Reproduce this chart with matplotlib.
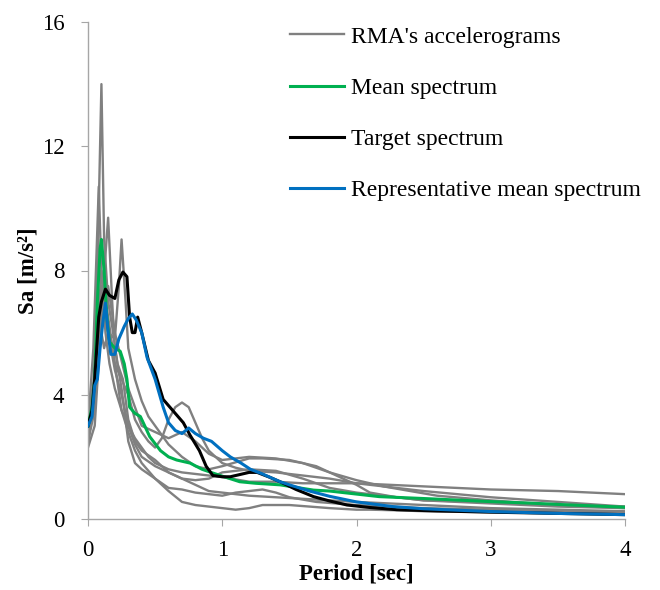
import matplotlib
matplotlib.use("Agg")
import matplotlib.pyplot as plt

# ---- data ----
g1_x = [0, 0.03, 0.06, 0.08, 0.1, 0.12, 0.15, 0.18, 0.22, 0.26, 0.3, 0.35, 0.4, 0.5, 0.6, 0.7, 0.8, 0.9, 1.0, 1.2, 1.4, 1.6, 1.8, 2.0, 2.5, 3.0, 3.5, 4.0]
g1_y = [2.6, 3.5, 6.0, 10.0, 14.0, 9.0, 7.0, 6.2, 5.0, 4.5, 3.2, 2.5, 2.2, 1.9, 1.5, 1.3, 1.1, 0.9, 0.85, 0.75, 0.7, 0.65, 0.6, 0.55, 0.45, 0.35, 0.3, 0.25]

g2_x = [0, 0.04, 0.08, 0.1, 0.13, 0.16, 0.2, 0.25, 0.3, 0.35, 0.4, 0.45, 0.5, 0.6, 0.7, 0.8, 0.9, 1.0, 1.2, 1.4, 1.6, 1.8, 2.0, 2.5, 3.0, 3.5, 4.0]
g2_y = [3.0, 5.5, 10.7, 8.0, 6.0, 5.0, 4.2, 3.5, 3.0, 2.6, 2.3, 2.0, 1.8, 1.6, 1.5, 1.45, 1.4, 1.35, 1.2, 1.2, 1.15, 1.15, 1.15, 1.05, 0.95, 0.9, 0.8]

g3_x = [0, 0.05, 0.1, 0.13, 0.15, 0.18, 0.2, 0.25, 0.3, 0.35, 0.4, 0.5, 0.6, 0.7, 0.8, 0.9, 1.0, 1.1, 1.2, 1.3, 1.5, 1.8, 2.0, 2.1, 2.3, 2.5, 3.0, 3.5, 4.0]
g3_y = [2.3, 3.0, 6.5, 8.5, 9.7, 7.0, 5.5, 4.2, 2.5, 1.8, 1.6, 1.3, 0.9, 0.55, 0.45, 0.4, 0.35, 0.3, 0.35, 0.45, 0.45, 0.35, 0.3, 0.3, 0.28, 0.25, 0.22, 0.2, 0.18]

g4_x = [0, 0.05, 0.1, 0.15, 0.2, 0.23, 0.25, 0.28, 0.3, 0.35, 0.4, 0.45, 0.5, 0.6, 0.7, 0.8, 0.9, 1.0, 1.2, 1.3, 1.5, 1.7, 1.8, 2.0, 2.1, 2.3, 2.5, 3.0, 3.5, 4.0]
g4_y = [3.5, 4.5, 7.5, 6.0, 5.8, 7.5, 9.0, 7.0, 5.5, 4.5, 3.8, 3.3, 3.0, 2.4, 2.0, 1.7, 1.6, 1.7, 1.95, 1.95, 1.9, 1.7, 1.5, 1.1, 0.85, 0.7, 0.6, 0.5, 0.4, 0.35]

g5_x = [0, 0.05, 0.1, 0.15, 0.2, 0.25, 0.3, 0.35, 0.4, 0.45, 0.5, 0.55, 0.6, 0.65, 0.7, 0.75, 0.8, 0.85, 0.9, 1.0, 1.1, 1.2, 1.4, 1.6, 1.8, 2.0, 2.5, 3.0, 3.5, 4.0]
g5_y = [2.8, 4.0, 7.2, 6.0, 5.0, 4.5, 4.0, 3.2, 2.8, 2.5, 2.3, 2.6, 3.2, 3.6, 3.75, 3.6, 3.1, 2.6, 2.2, 1.8, 1.65, 1.55, 1.5, 1.4, 1.3, 1.15, 0.9, 0.7, 0.55, 0.4]

g6_x = [0, 0.05, 0.1, 0.15, 0.2, 0.3, 0.4, 0.5, 0.6, 0.7, 0.8, 0.9, 1.0, 1.1, 1.2, 1.4, 1.6, 1.8, 2.0, 2.2, 2.4, 2.6, 3.0, 3.5, 4.0]
g6_y = [2.5, 3.5, 6.5, 7.5, 6.0, 4.2, 3.0, 2.8, 2.6, 2.8, 2.5, 2.1, 1.9, 1.95, 2.0, 1.95, 1.8, 1.5, 1.25, 1.05, 0.9, 0.75, 0.6, 0.45, 0.35]

g7_x = [0, 0.05, 0.1, 0.15, 0.2, 0.25, 0.3, 0.35, 0.4, 0.5, 0.6, 0.7, 0.8, 0.9, 1.0, 1.1, 1.2, 1.3, 1.4, 1.5, 1.7, 2.0, 2.5, 3.0, 3.5, 4.0]
g7_y = [3.2, 4.5, 8.0, 6.5, 5.0, 3.5, 2.8, 2.2, 1.8, 1.3, 1.0, 0.95, 0.85, 0.8, 0.75, 0.85, 0.9, 0.95, 0.85, 0.7, 0.55, 0.45, 0.35, 0.3, 0.25, 0.2]

g8_x = [0, 0.05, 0.08, 0.12, 0.15, 0.2, 0.25, 0.3, 0.35, 0.4, 0.5, 0.6, 0.7, 0.8, 0.9, 1.0, 1.2, 1.4, 1.6, 1.8, 2.0, 2.3, 2.5, 3.0, 3.5, 4.0]
g8_y = [2.4, 4.0, 6.5, 5.5, 6.0, 4.8, 4.0, 3.0, 2.4, 2.0, 1.7, 1.5, 1.3, 1.25, 1.3, 1.5, 1.6, 1.55, 1.3, 1.0, 0.85, 0.7, 0.6, 0.55, 0.45, 0.4]

mean_x = [0, 0.03, 0.05, 0.07, 0.09, 0.1, 0.12, 0.14, 0.16, 0.2, 0.24, 0.27, 0.29, 0.31, 0.35, 0.39, 0.46, 0.54, 0.6, 0.66, 0.76, 0.85, 0.93, 1.0, 1.13, 1.25, 1.43, 1.68, 1.8, 2.17, 2.55, 3.0, 3.3, 3.6, 4.0]
mean_y = [3.0, 3.6, 4.5, 7.0, 8.7, 9.0, 8.0, 6.5, 5.7, 5.5, 5.4, 5.0, 4.5, 3.6, 3.4, 3.3, 2.65, 2.2, 2.0, 1.9, 1.8, 1.6, 1.48, 1.38, 1.2, 1.15, 1.1, 0.93, 0.9, 0.72, 0.65, 0.56, 0.51, 0.45, 0.38]

target_x = [0, 0.03, 0.05, 0.08, 0.1, 0.13, 0.16, 0.2, 0.23, 0.26, 0.29, 0.31, 0.33, 0.35, 0.37, 0.4, 0.45, 0.5, 0.56, 0.63, 0.71, 0.76, 0.83, 0.88, 0.93, 1.0, 1.06, 1.12, 1.2, 1.26, 1.35, 1.43, 1.55, 1.68, 1.8, 1.93, 2.1, 2.3, 2.6, 3.0, 3.5, 4.0]
target_y = [3.0, 3.5, 4.5, 6.5, 7.0, 7.4, 7.2, 7.1, 7.7, 7.95, 7.8, 6.5, 6.0, 6.0, 6.5, 6.0, 5.1, 4.7, 3.85, 3.5, 3.1, 2.7, 2.2, 1.7, 1.4, 1.36, 1.36, 1.42, 1.5, 1.5, 1.35, 1.2, 0.95, 0.72, 0.58, 0.45, 0.37, 0.3, 0.26, 0.22, 0.18, 0.14]

rep_x = [0, 0.03, 0.05, 0.07, 0.09, 0.11, 0.13, 0.15, 0.17, 0.2, 0.23, 0.27, 0.3, 0.33, 0.36, 0.4, 0.44, 0.5, 0.56, 0.6, 0.65, 0.7, 0.75, 0.8, 0.86, 0.92, 1.0, 1.06, 1.14, 1.21, 1.3, 1.43, 1.5, 1.65, 1.8, 2.0, 2.27, 2.5, 2.77, 3.0, 3.5, 4.0]
rep_y = [3.0, 3.3, 4.3, 4.5, 5.5, 6.3, 6.95, 6.0, 5.3, 5.3, 5.8, 6.2, 6.45, 6.6, 6.4, 6.0, 5.2, 4.5, 3.6, 3.1, 2.85, 2.75, 2.93, 2.75, 2.6, 2.5, 2.2, 2.0, 1.8, 1.6, 1.45, 1.2, 1.1, 0.9, 0.73, 0.55, 0.4, 0.33, 0.28, 0.24, 0.18, 0.14]

gray_series = [(g1_x, g1_y), (g2_x, g2_y), (g3_x, g3_y), (g4_x, g4_y),
               (g5_x, g5_y), (g6_x, g6_y), (g7_x, g7_y), (g8_x, g8_y)]

x_ticks = [0, 1, 2, 3, 4]
y_ticks = [0, 4, 8, 12, 16]

# ---- figure ----
plt.rcParams['font.family'] = ['Liberation Serif', 'DejaVu Serif']
fig = plt.figure(figsize=(6.6, 5.9), dpi=100)
ax = fig.add_axes([88/660, 1-519/590, (625-88)/660, (519-22)/590])

GRAY = '#808080'
for i, (xs, ys) in enumerate(gray_series):
    ax.plot(xs, ys, color=GRAY, lw=1.7, solid_joinstyle='round',
            label="RMA's accelerograms" if i == 0 else None, zorder=2)
ax.plot(mean_x, mean_y, color='#00B050', lw=2.2, label='Mean spectrum', zorder=3)
ax.plot(target_x, target_y, color='black', lw=2.2, label='Target spectrum', zorder=4)
ax.plot(rep_x, rep_y, color='#0070C0', lw=2.2, label='Representative mean spectrum', zorder=5)

ax.set_xlim(0, 4)
ax.set_ylim(0, 16)
ax.set_xticks(x_ticks)
ax.set_yticks(y_ticks)
for s in ['top', 'right']:
    ax.spines[s].set_visible(False)
for s in ['left', 'bottom']:
    ax.spines[s].set_color('#a6a6a6')
    ax.spines[s].set_linewidth(1.0)
ax.tick_params(axis='both', direction='out', length=5, color='#a6a6a6',
               labelsize=16.5, labelcolor='black')
ax.tick_params(axis='x', pad=10)
ax.tick_params(axis='y', pad=12)

ax.set_xlabel('Period [sec]', fontsize=16.5, fontweight='bold', labelpad=2)
ax.set_ylabel('Sa [m/s²]', fontsize=16.5, fontweight='bold', labelpad=2)

leg = ax.legend(loc='upper left', bbox_to_anchor=(290/660, 1-26/590),
                bbox_transform=fig.transFigure, frameon=False, fontsize=17,
                handlelength=2.3, handletextpad=0.27, labelspacing=1.26,
                borderpad=0, borderaxespad=0)

fig.savefig('out.png', dpi=100)
